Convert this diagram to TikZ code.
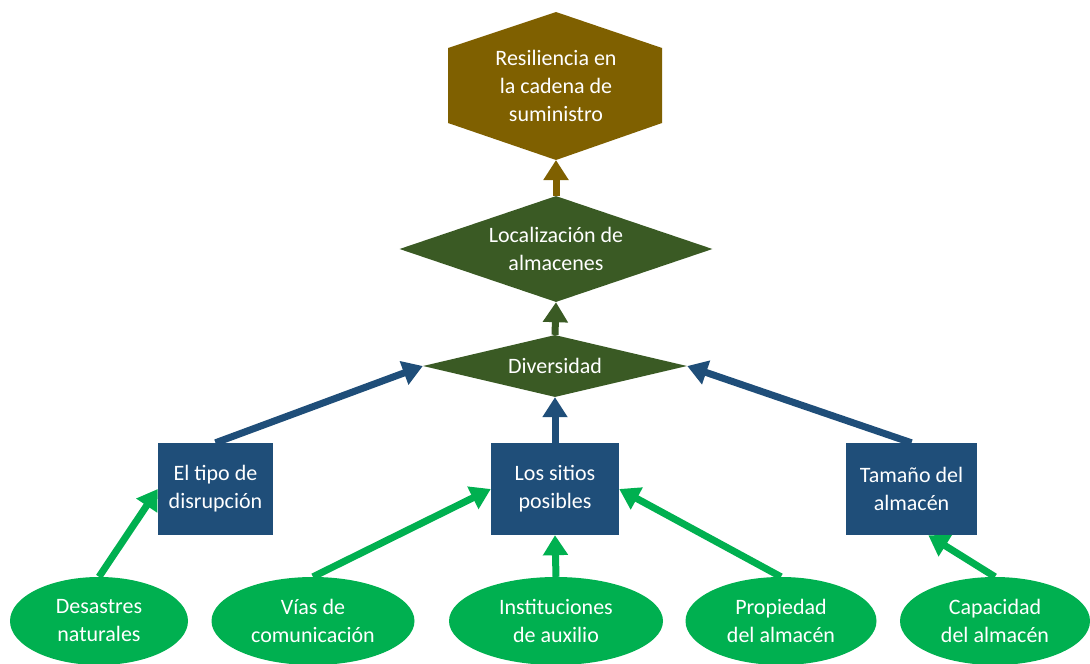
\documentclass[tikz,border=0pt]{standalone}
\usepackage{fontspec}
\setmainfont{Carlito}
\usetikzlibrary{shapes.geometric,arrows.meta}
\definecolor{hexbrown}{HTML}{7F6000}
\definecolor{dgreen}{HTML}{3A5A24}
\definecolor{dblue}{HTML}{1F4E79}
\definecolor{lgreen}{HTML}{00B050}
\begin{document}
\begin{tikzpicture}[x=1pt,y=1pt,
  txt/.style={text=white,font=\fontsize{22}{28}\selectfont,align=center},
  dia/.style={diamond,fill=dgreen,txt,inner sep=0pt},
  boxn/.style={rectangle,fill=dblue,txt,minimum height=92pt,inner sep=0pt},
  ell/.style={ellipse,fill=lgreen,txt,inner sep=0pt,minimum height=88pt},
  arr/.style={line width=7pt,-{Triangle[length=20pt,width=24pt]}},
]
\useasboundingbox[fill=white] (0,0) rectangle (1090,-664);

% hexagon
\fill[hexbrown] (556,-12) -- (662,-48) -- (662,-123) -- (556,-160) -- (448,-123) -- (448,-48) -- cycle;
\node[txt] (res) at (556,-86) {Resiliencia en\\la cadena de\\suministro};
\coordinate (resB) at (556,-160);

% diamonds
\node[dia,aspect=3,minimum width=313pt,minimum height=106pt] (loc) at (556,-249) {Localización de\\almacenes};
\node[dia,aspect=4.2,minimum width=264pt,minimum height=62pt] (div) at (555,-366) {Diversidad};

% boxes
\node[boxn,minimum width=115pt] (tipo) at (215.5,-489) {El tipo de\\disrupción};
\node[boxn,minimum width=128pt] (sit) at (555,-489) {Los sitios\\posibles};
\node[boxn,minimum width=131pt] (tam) at (911.5,-489) {Tamaño del\\almacén};

% ellipses
\node[ell,minimum width=178pt] (des) at (99,-621) {Desastres\\naturales};
\node[ell,minimum width=203pt] (vias) at (313,-621) {Vías de\\comunicación};
\node[ell,minimum width=214pt] (inst) at (556,-621) {Instituciones\\de auxilio};
\node[ell,minimum width=191pt] (prop) at (781,-621) {Propiedad\\del almacén};
\node[ell,minimum width=190pt] (cap) at (995,-621) {Capacidad\\del almacén};

% arrows
\draw[arr,hexbrown] (loc.north) -- (resB);
\draw[arr,dgreen] (div.north) -- (loc.south);
\draw[arr,dblue] (tipo.north) -- (div.west);
\draw[arr,dblue] (sit.north) -- (div.south);
\draw[arr,dblue] (tam.north) -- (div.east);
\draw[arr,lgreen] (des.north) -- (tipo.west);
\draw[arr,lgreen] (vias.north) -- (sit.west);
\draw[arr,lgreen] (inst.north) -- (sit.south);
\draw[arr,lgreen] (prop.north) -- (sit.east);
\draw[arr,lgreen] (cap.north) -- (tam.290);
\end{tikzpicture}
\end{document}
